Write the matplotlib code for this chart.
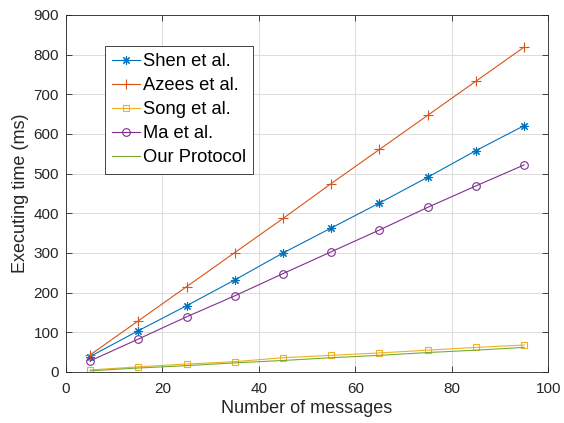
import matplotlib
matplotlib.use("Agg")
import matplotlib.pyplot as plt

plt.rcParams['font.family'] = ['Liberation Sans', 'DejaVu Sans']

messages = [5, 15, 25, 35, 45, 55, 65, 75, 85, 95]
shen = [39, 104, 167, 232, 300, 363, 426, 491, 558, 621]
azees = [43, 129, 215, 301, 387, 475, 561, 647, 733, 819]
song = [5, 13, 20, 26, 36, 42, 48, 55, 62, 68]
ma = [28, 83, 139, 192, 248, 303, 358, 415, 469, 522]
ours = [3, 10, 16, 23, 29, 36, 42, 49, 55, 62]

labels = ["Shen et al.", "Azees et al.", "Song et al.", "Ma et al.", "Our Protocol"]
colors = ["#0072BD", "#D95319", "#EDB120", "#7E2F8E", "#77AC30"]
markers = [(8, 2, 0), "+", "s", "o", None]
msizes = [6, 7, 4, 5.5, 0]

fig = plt.figure(figsize=(5.64, 4.23), dpi=100)
ax = fig.add_axes([0.117, 0.1206, 0.855, 0.844])

series = [shen, azees, song, ma, ours]
for vals, lab, col, mk, ms in zip(series, labels, colors, markers, msizes):
    ax.plot(messages, vals, color=col, marker=mk, label=lab, linewidth=0.8,
            markersize=ms, markerfacecolor="none", markeredgewidth=0.8)

ax.set_xlim(0, 100)
ax.set_ylim(0, 900)
ax.set_xticks(range(0, 101, 20))
ax.set_yticks(range(0, 901, 100))
ax.grid(True, color="#dcdcdc", linewidth=0.7)
ax.set_axisbelow(True)
ax.tick_params(direction="in", top=True, right=True, labelsize=11,
               colors="#262626", length=4, width=0.6)
ax.tick_params(axis="x", pad=7)
ax.tick_params(axis="y", pad=5)
for s in ax.spines.values():
    s.set_color("#262626")
    s.set_linewidth(0.6)

ax.set_xlabel("Number of messages", fontsize=13, color="#262626", labelpad=3)
ax.set_ylabel("Executing time (ms)", fontsize=13, color="#262626", labelpad=3)

leg = ax.legend(loc="upper left", bbox_to_anchor=(0.081, 0.913), fontsize=13.2,
                fancybox=False, edgecolor="#262626", framealpha=1,
                handlelength=1.5, handletextpad=0.15, borderpad=0.4,
                labelspacing=0.38, borderaxespad=0)
leg.get_frame().set_linewidth(0.6)

fig.savefig("out.png", dpi=100)
